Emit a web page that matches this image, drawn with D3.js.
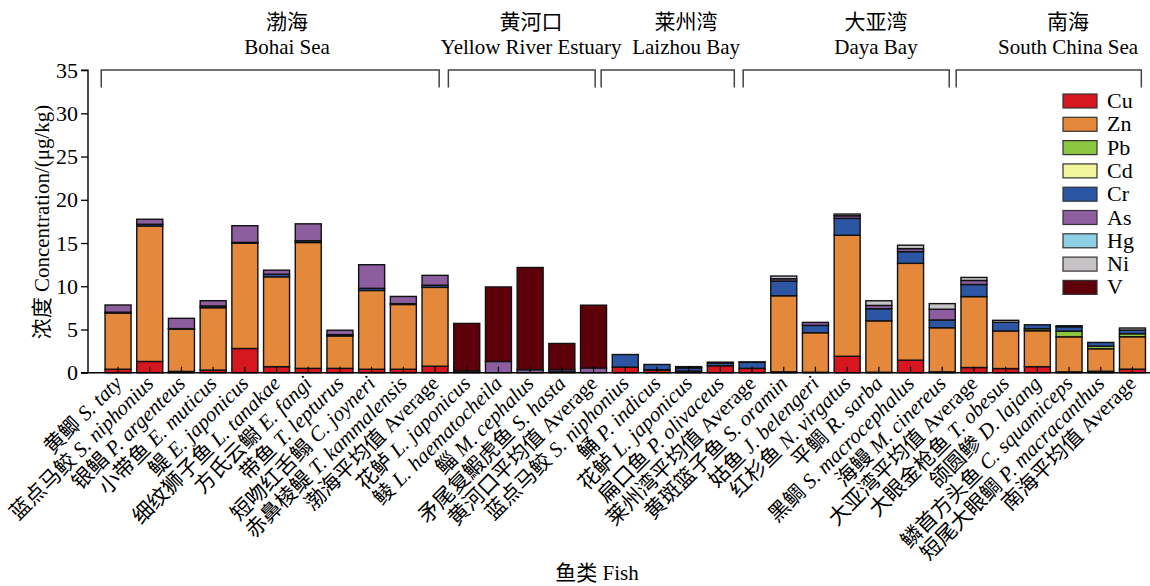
<!DOCTYPE html>
<html>
<head>
<meta charset="utf-8">
<script src="https://cdn.jsdelivr.net/npm/d3@7/dist/d3.min.js"></script>
<style>
  html, body { margin: 0; padding: 0; background: #fff; }
  svg { display: block; }
  svg text { font-family: "Liberation Serif", "Times New Roman", Tinos, "DejaVu Serif", "Noto Sans CJK SC", serif; fill: #000; }
</style>
</head>
<body>
<svg id="chart" width="1150" height="586"></svg>
<script>
// ---------------- DATA ----------------
const namesCn = [
  "黄鲫","蓝点马鲛","银鲳","小带鱼","鳀","细纹狮子鱼","方氏云鳚","带鱼","短吻红舌鳎","赤鼻棱鳀","渤海平均值",
  "花鲈","鲮","鲻","矛尾复鰕虎鱼","黄河口平均值",
  "蓝点马鲛","鲬","花鲈","扁口鱼","莱州湾平均值",
  "黄斑篮子鱼","姑鱼","红杉鱼","平鲷","黑鲷","海鳗","大亚湾平均值",
  "大眼金枪鱼","颌圆鲹","鳞首方头鱼","短尾大眼鲷","南海平均值"
];
const namesLatin = [
  "S. taty","S. niphonius","P. argenteus","E. muticus","E. japonicus","L. tanakae","E. fangi","T. lepturus","C. joyneri","T. kammalensis","Average",
  "L. japonicus","L. haematocheila","M. cephalus","S. hasta","Average",
  "S. niphonius","P. indicus","L. japonicus","P. olivaceus","Average",
  "S. oramin","J. belengeri","N. virgatus","R. sarba","S. macrocephalus","M. cinereus","Average",
  "T. obesus","D. lajang","C. squamiceps","P. macracanthus","Average"
];
const metals = ["Cu","Zn","Pb","Cd","Cr","As","Hg","Ni","V"];

const Cu = [0.4,1.3,0.15,0.3,2.8,0.7,0.5,0.5,0.4,0.4,0.75, 0,0,0,0,0, 0.65,0.3,0.2,0.8,0.5, 0.1,0.05,1.9,0.05,1.45,0.1,0.6, 0.48,0.7,0.1,0.17,0.41];
const Zn = [6.5,15.67,4.9,7.22,12.17,10.39,14.56,3.75,9.11,7.49,9.12, 0,0,0,0,0, 0,0.05,0,0,0, 8.8,4.57,14.0,5.95,11.2,5.1,8.2, 4.35,4.15,4.05,2.6,3.75];
const Pb = [0,0,0,0,0,0,0,0,0,0,0, 0,0,0,0,0, 0,0,0,0,0, 0,0,0,0,0,0,0, 0,0.23,0.66,0.3,0.35];
const Cd = [0,0,0,0,0,0,0,0,0,0,0, 0,0,0,0,0, 0,0,0,0,0, 0,0,0,0,0,0,0, 0,0,0,0,0];
const Cr = [0.1,0.2,0.05,0.2,0.1,0.3,0.2,0.15,0.25,0.1,0.25, 0,0,0,0.1,0, 1.45,0.6,0.35,0.3,0.7, 1.7,0.85,1.95,1.4,1.35,0.9,1.4, 1.0,0.46,0.5,0.43,0.42];
const As = [0.83,0.58,1.19,0.61,1.93,0.47,1.96,0.51,2.73,0.83,1.14, 0.2,1.3,0.35,0.25,0.55, 0,0,0,0.12,0, 0.27,0.35,0.3,0.38,0.35,1.24,0.47, 0,0,0,0,0];
const Hg = [0,0,0,0,0,0,0,0,0,0,0, 0,0,0,0,0, 0,0,0,0,0, 0,0,0,0,0,0,0, 0,0,0,0,0];
const Ni = [0,0,0,0,0,0,0,0,0,0,0, 0,0,0,0,0, 0,0,0.15,0,0.05, 0.31,0,0.2,0.54,0.4,0.65,0.35, 0.23,0,0.12,0,0.24];
const V  = [0,0,0,0,0,0,0,0,0,0,0, 5.5,8.62,11.82,3.03,7.26, 0,0,0,0,0, 0,0,0,0,0,0,0, 0,0,0,0,0];

const regionCn = ["渤海","黄河口","莱州湾","大亚湾","南海"];
const regionEn = ["Bohai Sea","Yellow River Estuary","Laizhou Bay","Daya Bay","South China Sea"];
const yTicks = [0,5,10,15,20,25,30,35];

// ---------------- LAYOUT / STYLE ----------------
const colors = {
  Cu:"#D7171F", Zn:"#E4883B", Pb:"#8CC53F", Cd:"#F1F59B", Cr:"#2C56A3",
  As:"#8C5E9F", Hg:"#8ECFE4", Ni:"#C6C2C5", V:"#5E0009"
};
const seriesVals = {Cu, Zn, Pb, Cd, Cr, As, Hg, Ni, V};

const svg = d3.select("#chart");
const axisX = 88, y0px = 372.7, y35px = 70.1;

const y = d3.scaleLinear().domain([0, 35]).range([y0px, y35px]);
const idx = d3.range(namesCn.length);
const x = d3.scaleBand().domain(idx).range([102.2, 1148.3]).paddingInner(0.18).paddingOuter(0.09);
const step = x.step();
const xi = d3.scaleLinear().domain([0, namesCn.length]).range([102.2, 102.2 + step * namesCn.length]);

const rows = idx.map(i => { const r = {i}; metals.forEach(m => r[m] = seriesVals[m][i]); return r; });
const stacked = d3.stack().keys(metals)(rows);

const g = svg.append("g");
stacked.forEach(layer => {
  g.selectAll(null)
    .data(layer.filter(d => d[1] - d[0] > 0))
    .enter().append("rect")
    .attr("x", d => x(d.data.i))
    .attr("width", x.bandwidth())
    .attr("y", d => y(d[1]))
    .attr("height", d => y(d[0]) - y(d[1]))
    .attr("fill", colors[layer.key])
    .attr("stroke", "#111")
    .attr("stroke-width", 1.4);
});

svg.append("line").attr("x1", axisX).attr("x2", 1150).attr("y1", y0px).attr("y2", y0px)
  .attr("stroke", "#000").attr("stroke-width", 1.4);
svg.append("g").selectAll("line").data(idx).enter().append("line")
  .attr("x1", i => x(i) + x.bandwidth()/2).attr("x2", i => x(i) + x.bandwidth()/2)
  .attr("y1", y0px).attr("y2", y0px - 6)
  .attr("stroke", "#000").attr("stroke-width", 1.2);

const yAxis = d3.axisLeft(y).tickValues(yTicks).tickSize(7).tickPadding(3);
const ya = svg.append("g").attr("transform", `translate(${axisX},0)`).call(yAxis);
ya.attr("font-family", null);
ya.select(".domain").attr("stroke", "#000").attr("stroke-width", 1.4).attr("d", `M-7,${y35px}H0V${y0px}H-7`);
ya.selectAll(".tick line").attr("stroke", "#000").attr("stroke-width", 1.3);
ya.selectAll(".tick text").attr("font-size", 22).attr("fill", "#000");

svg.append("text")
  .attr("transform", "translate(49,222) rotate(-90)")
  .attr("text-anchor", "middle")
  .attr("font-size", 21)
  .text("浓度 Concentration/(μg/kg)");

svg.append("text").attr("x", 597).attr("y", 580).attr("text-anchor", "middle")
  .attr("font-size", 21).text("鱼类 Fish");

const lab = svg.append("g");
idx.forEach(i => {
  const cx = x(i) + x.bandwidth()/2;
  const t = lab.append("text")
    .attr("transform", `translate(${cx + 5},${y0px + 12}) rotate(-45)`)
    .attr("text-anchor", "end")
    .attr("font-size", 21);
  t.append("tspan").text(namesCn[i] + " ");
  t.append("tspan").attr("font-style", namesLatin[i] === "Average" ? "normal" : "italic").text(namesLatin[i]);
});

const bracketSpans = [[-0.03, 10.63], [10.92, 15.55], [15.74, 19.94], [20.22, 26.72], [26.94, 32.78]];
const headerCenters = [5.83, 13.53, 18.42, 24.41, 30.47];
const bt = y(35), bb = y(33);
bracketSpans.forEach((s, k) => {
  const xa = xi(s[0]), xb = xi(s[1]);
  svg.append("path")
    .attr("d", `M${xa},${bb}V${bt}H${xb}V${bb}`)
    .attr("fill", "none").attr("stroke", "#444").attr("stroke-width", 1.5);
  const hc = xi(headerCenters[k]);
  svg.append("text").attr("x", hc).attr("y", 29).attr("text-anchor", "middle")
    .attr("font-size", 21).text(regionCn[k]);
  svg.append("text").attr("x", hc).attr("y", 54).attr("text-anchor", "middle")
    .attr("font-size", 21).text(regionEn[k]);
});

const leg = svg.append("g").attr("transform", "translate(1063,94)");
metals.forEach((m, k) => {
  const row = leg.append("g").attr("transform", `translate(0,${k * 23.3})`);
  row.append("rect").attr("width", 34).attr("height", 14)
    .attr("fill", colors[m]).attr("stroke", "#333").attr("stroke-width", 1.2);
  row.append("text").attr("x", 44).attr("y", 14).attr("font-size", 22).text(m);
});
</script>
</body>
</html>
